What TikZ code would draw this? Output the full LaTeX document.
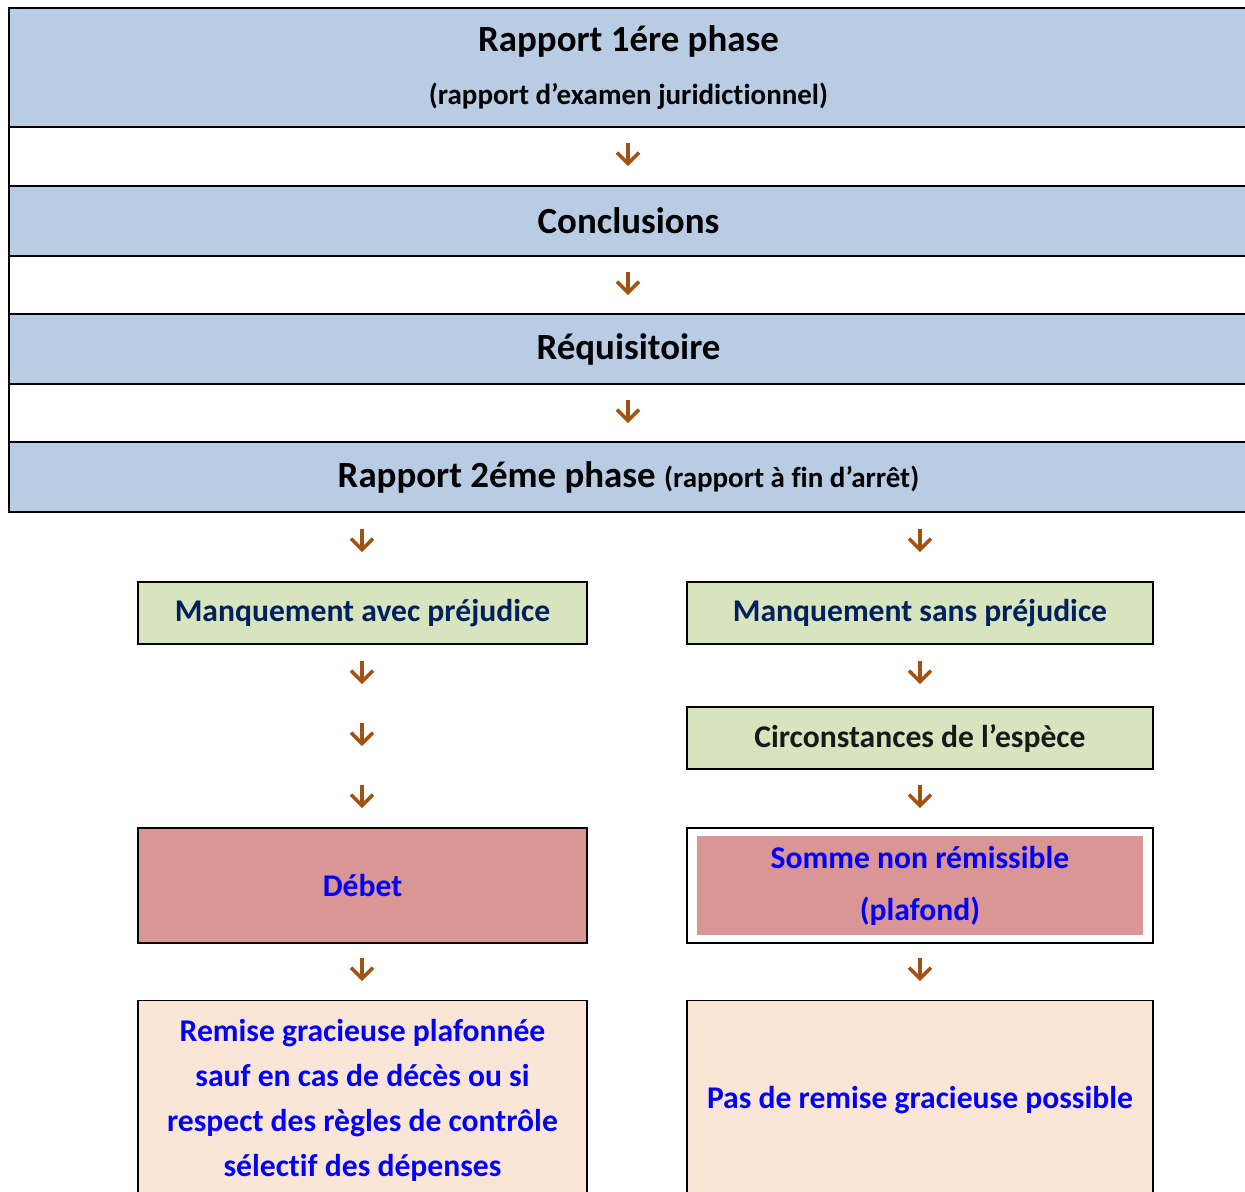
\documentclass[tikz,border=0pt]{standalone}
\usepackage{fontspec}
\setmainfont{Carlito}[Ligatures=NoCommon]
\usetikzlibrary{arrows.meta}

\definecolor{rowblue}{RGB}{184,204,228}
\definecolor{boxgreen}{RGB}{215,228,189}
\definecolor{boxred}{RGB}{217,150,148}
\definecolor{boxpeach}{RGB}{251,229,214}
\definecolor{navytext}{RGB}{0,32,96}
\definecolor{arrowbrown}{RGB}{160,82,18}

\begin{document}
\begin{tikzpicture}[
  x=0.02cm, y=-0.02cm,
  row/.style={rectangle, draw, line width=1pt, minimum width=24.78cm, inner sep=0pt, align=center, font=\fontsize{21}{25}\selectfont\bfseries},
  bluerow/.style={row, fill=rowblue, minimum height=1.4cm},
  blankrow/.style={row, fill=white, minimum height=1.16cm},
  box/.style={rectangle, draw, line width=1pt, inner sep=0pt, align=center, font=\fontsize{18}{25.6}\selectfont\bfseries},
  greenbox/.style={box, fill=boxgreen, minimum height=1.24cm, text=navytext},
  lbox/.style={minimum width=8.98cm},
  rbox/.style={minimum width=9.32cm},
  arrow/.style={-{Straight Barb[length=2.2mm, width=4.4mm]}, line width=2pt, draw=arrowbrown},
]
\clip (0,0) rectangle (1245,1191);

% === Table of the phases ===
\node[bluerow, minimum height=2.38cm] (ph1) at (628.5,67.5)
  {Rapport 1ére phase\\[5pt]{\fontsize{16.5}{20}\selectfont (rapport d’examen juridictionnel)}};
\node[blankrow, minimum height=1.18cm] (w1) at (628.5,156.5) {};
\node[bluerow] (concl) at (628.5,221) {Conclusions};
\node[blankrow] (w2) at (628.5,285) {};
\node[bluerow] (requis) at (628.5,349) {Réquisitoire};
\node[blankrow] (w3) at (628.5,413) {};
\node[bluerow] (ph2) at (628.5,477)
  {Rapport 2éme phase {\fontsize{16.5}{20}\selectfont (rapport à fin d’arrêt)}};

% === Two branches ===
\node[greenbox, lbox] (avec) at (362.5,613) {Manquement avec préjudice};
\node[greenbox, rbox] (sans) at (920,613) {Manquement sans préjudice};
\node[greenbox, rbox, text=black!90] (circ) at (920,738) {Circonstances de l’espèce};

\node[box, lbox, fill=boxred, minimum height=2.3cm, text=blue] (debet) at (362.5,885.5) {Débet};
\node[box, rbox, fill=white, minimum height=2.3cm] (somme) at (920,885.5) {};
\node[rectangle, fill=boxred, minimum width=8.92cm, minimum height=1.98cm, align=center, text=blue,
  font=\fontsize{18}{29.6}\selectfont\bfseries] (plafond) at (920,885.5)
  {Somme non rémissible\\(plafond)};

\node[box, lbox, fill=boxpeach, minimum height=3.98cm, text=blue] (remise) at (362.5,1100)
  {Remise gracieuse plafonnée\\sauf en cas de décès ou si\\respect des règles de contrôle\\sélectif des dépenses};
\node[box, rbox, fill=boxpeach, minimum height=3.98cm, text=blue] (pasremise) at (920,1100)
  {Pas de remise gracieuse possible};

% === Arrows ===
\foreach \n/\x/\y in {a1/628/155, a2/628/284, a3/628/412,
                      l1/362/541, l2/362/673, l3/362/735, l4/362/797, l5/362/970,
                      r1/920/541, r2/920/673, r3/920/797, r4/920/970} {
  \coordinate (\n-top) at (\x,\y-12);
  \coordinate (\n-bot) at (\x,\y+11);
  \draw[arrow] (\n-top) -- (\n-bot);
}

\end{tikzpicture}
\end{document}
